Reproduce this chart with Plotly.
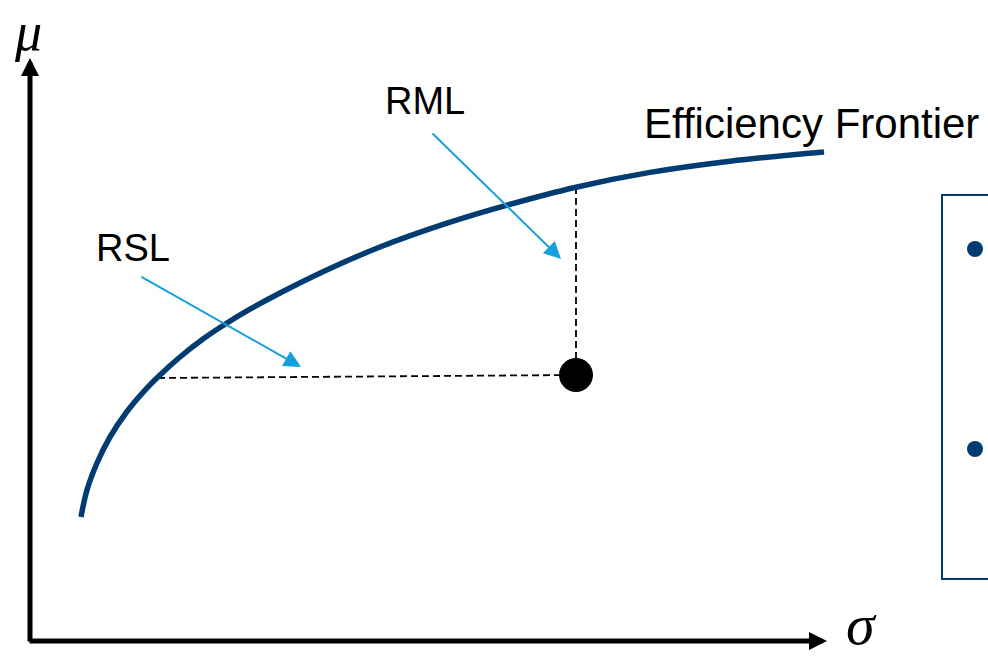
import plotly.graph_objects as go

# Efficient frontier sampled along the curve (risk sigma, return mu), arbitrary units
frontier_sigma = [51, 57, 67, 80, 97, 113, 130, 150, 173, 197, 220, 250, 300, 350, 417, 478, 546, 620, 700, 794]
frontier_mu = [124, 151, 178, 204, 229.5, 248.7, 266, 284, 302, 318, 331.8, 348, 372.5, 394, 417.8, 436.1, 453.8, 468.6, 479.8, 489]

# Portfolio under study and its reference points on the frontier
portfolio = (546, 266)
rsl_anchor = (128, 263)   # frontier point at (about) the same return
rml_anchor = (546, 454)   # frontier point at the same risk

# Bullet points of the side panel
bullet_sigma = [945, 945]
bullet_mu = [392, 192]

# Axis extents
SIGMA_MAX = 797
MU_MAX = 583

NAVY = "#003b71"
SKY = "#14a0dc"
FONT = "Liberation Sans, Arial, sans-serif"

fig = go.Figure()

# Dashed guides: horizontal (RSL) and vertical (RML)
fig.add_trace(go.Scatter(
    x=[rsl_anchor[0], portfolio[0]], y=[rsl_anchor[1], portfolio[1]],
    mode="lines", line=dict(color="black", width=1.8, dash="7px,4px"),
    hoverinfo="skip", showlegend=False))
fig.add_trace(go.Scatter(
    x=[rml_anchor[0], portfolio[0]], y=[rml_anchor[1], portfolio[1]],
    mode="lines", line=dict(color="black", width=1.8, dash="7px,4px"),
    hoverinfo="skip", showlegend=False))

# Efficient frontier
fig.add_trace(go.Scatter(
    x=frontier_sigma, y=frontier_mu, mode="lines",
    line=dict(color=NAVY, width=5.5, shape="spline", smoothing=1.0),
    hoverinfo="skip", showlegend=False))

# Portfolio point
fig.add_trace(go.Scatter(
    x=[portfolio[0]], y=[portfolio[1]], mode="markers",
    marker=dict(color="black", size=34), hoverinfo="skip", showlegend=False))

# Side panel bullets
fig.add_trace(go.Scatter(
    x=bullet_sigma, y=bullet_mu, mode="markers",
    marker=dict(color=NAVY, size=16), hoverinfo="skip", showlegend=False))

annotations = []

# Axes drawn as arrows
annotations.append(dict(x=SIGMA_MAX, y=0, ax=-2, ay=0, xref="x", yref="y", axref="x", ayref="y",
                        text="", showarrow=True, arrowhead=2, arrowsize=0.72, arrowwidth=5,
                        arrowcolor="black"))
annotations.append(dict(x=0, y=MU_MAX, ax=0, ay=-2, xref="x", yref="y", axref="x", ayref="y",
                        text="", showarrow=True, arrowhead=2, arrowsize=0.72, arrowwidth=5,
                        arrowcolor="black"))

# Pointer arrows for RSL and RML
annotations.append(dict(x=271, y=274, ax=110, ay=365, xref="x", yref="y", axref="x", ayref="y",
                        text="", showarrow=True, arrowhead=2, arrowsize=1.7, arrowwidth=2,
                        arrowcolor=SKY))
annotations.append(dict(x=531, y=382, ax=401, ay=509, xref="x", yref="y", axref="x", ayref="y",
                        text="", showarrow=True, arrowhead=2, arrowsize=1.7, arrowwidth=2,
                        arrowcolor=SKY))

# Labels
annotations.append(dict(x=103, y=393, text="RSL", showarrow=False, xanchor="center", yanchor="middle",
                        font=dict(family=FONT, size=38, color="black")))
annotations.append(dict(x=395, y=540, text="RML", showarrow=False, xanchor="center", yanchor="middle",
                        font=dict(family=FONT, size=38, color="black")))
annotations.append(dict(x=612, y=518, text="Efficiency Frontier", showarrow=False,
                        xanchor="left", yanchor="middle",
                        font=dict(family=FONT, size=42, color="black")))
annotations.append(dict(x=-2, y=641, text="<i>μ</i>", showarrow=False, xanchor="center", yanchor="top",
                        font=dict(family="Liberation Serif, serif", size=54, color="black")))
annotations.append(dict(x=831, y=-18, text="<i>σ</i>", showarrow=False, xanchor="center", yanchor="bottom",
                        font=dict(family="Liberation Serif, serif", size=58, color="black")))

fig.update_layout(
    width=988, height=659,
    margin=dict(l=0, r=0, t=0, b=0),
    paper_bgcolor="white", plot_bgcolor="white",
    xaxis=dict(range=[-30, 958], visible=False, fixedrange=True),
    yaxis=dict(range=[-18, 641], visible=False, fixedrange=True),
    annotations=annotations,
    shapes=[dict(type="rect", xref="x", yref="y", x0=912, x1=1000, y0=62, y1=446,
                 line=dict(color=NAVY, width=2), fillcolor="rgba(0,0,0,0)", layer="below")],
    showlegend=False,
)

fig.write_html("out.html")
